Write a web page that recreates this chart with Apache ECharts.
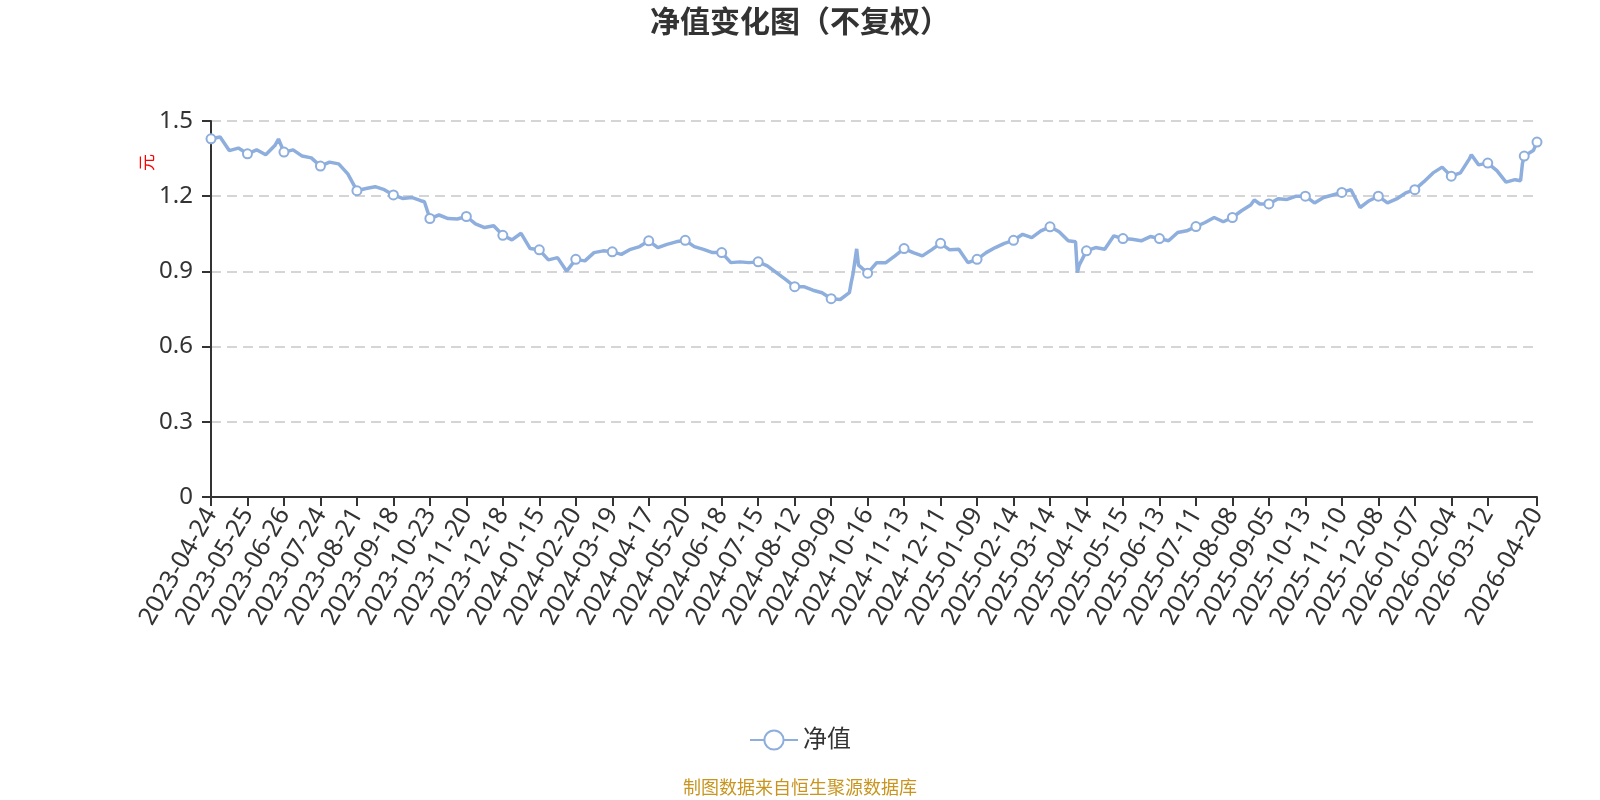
<!DOCTYPE html>
<html>
<head>
<meta charset="utf-8">
<title>净值变化图（不复权）</title>
<script src="https://cdn.jsdelivr.net/npm/echarts@6/dist/echarts.min.js"></script>
<style>
    html, body { margin: 0; padding: 0; background: #fff; }
    #chart { width: 1600px; height: 800px; }
</style>
</head>
<body>
<div id="chart"></div>
<script>
// trading calendar: weekdays minus exchange holidays, plus quarter-end NAV days on weekends
var startDate = "2023-04-24";
var endDate = "2026-04-20";
var holidays = [
    "2023-05-01", "2023-05-02", "2023-05-03", "2023-06-22", "2023-06-23",
    "2023-09-29", "2023-10-02", "2023-10-03", "2023-10-04", "2023-10-05", "2023-10-06",
    "2024-01-01", "2024-02-09", "2024-02-12", "2024-02-13", "2024-02-14", "2024-02-15", "2024-02-16",
    "2024-04-04", "2024-04-05", "2024-05-01", "2024-05-02", "2024-05-03", "2024-06-10",
    "2024-09-16", "2024-09-17", "2024-10-01", "2024-10-02", "2024-10-03", "2024-10-04", "2024-10-07",
    "2025-01-01", "2025-01-28", "2025-01-29", "2025-01-30", "2025-01-31", "2025-02-03", "2025-02-04",
    "2025-04-04", "2025-05-01", "2025-05-02", "2025-05-05", "2025-06-02",
    "2025-10-01", "2025-10-02", "2025-10-03", "2025-10-06", "2025-10-07", "2025-10-08",
    "2026-01-01", "2026-01-02", "2026-02-16", "2026-02-17", "2026-02-18", "2026-02-19", "2026-02-20", "2026-02-23"
];
var quarterEndDays = ["2023-09-30", "2023-12-31", "2024-03-31", "2024-06-30"];

// NAV read every 5th trading day (index 0, 5, 10 ...)
var navStep = 5;
var navValues = [
    1.429, 1.436, 1.382, 1.392, 1.369, 1.385, 1.365, 1.402, 1.376, 1.385,
    1.360, 1.353, 1.320, 1.336, 1.329, 1.289, 1.222, 1.231, 1.238, 1.226,
    1.205, 1.191, 1.195, 1.182, 1.111, 1.125, 1.111, 1.109, 1.119, 1.090,
    1.075, 1.082, 1.044, 1.026, 1.052, 0.991, 0.986, 0.946, 0.955, 0.901,
    0.948, 0.942, 0.975, 0.982, 0.978, 0.968, 0.988, 0.999, 1.022, 0.995,
    1.008, 1.018, 1.024, 0.999, 0.988, 0.975, 0.975, 0.935, 0.938, 0.935,
    0.938, 0.922, 0.895, 0.868, 0.839, 0.839, 0.825, 0.815, 0.791, 0.788,
    0.815, 0.925, 0.893, 0.935, 0.935, 0.962, 0.991, 0.975, 0.962, 0.986,
    1.012, 0.986, 0.988, 0.935, 0.948, 0.975, 0.995, 1.012, 1.024, 1.048,
    1.035, 1.062, 1.078, 1.058, 1.022, 0.895, 0.982, 0.995, 0.988, 1.042,
    1.031, 1.028, 1.022, 1.039, 1.031, 1.022, 1.055, 1.062, 1.079, 1.095,
    1.115, 1.098, 1.115, 1.142, 1.165, 1.169, 1.169, 1.190, 1.187, 1.200,
    1.200, 1.173, 1.195, 1.205, 1.215, 1.226, 1.155, 1.182, 1.200, 1.173,
    1.189, 1.213, 1.226, 1.258, 1.293, 1.316, 1.280, 1.293, 1.350, 1.325,
    1.332, 1.302, 1.256, 1.266, 1.360, 1.382
];
// sharp moves read at their own dates
var extraDates = [
    "2023-06-19", "2023-10-18", "2024-09-26", "2024-09-27", "2024-09-30", "2024-10-08",
    "2025-04-03", "2025-04-08", "2025-08-26", "2026-02-27", "2026-04-07", "2026-04-08", "2026-04-20"
];
var extraValues = [
    1.428, 1.178, 0.855, 0.890, 0.940, 0.990,
    1.018, 0.925, 1.185, 1.365, 1.262, 1.330, 1.416
];

function buildDates() {
    var out = [];
    var d = new Date(startDate + "T00:00:00Z");
    var end = new Date(endDate + "T00:00:00Z");
    while (d <= end) {
        var s = d.toISOString().slice(0, 10);
        var wd = d.getUTCDay();
        if ((wd > 0 && wd < 6 && holidays.indexOf(s) < 0) || quarterEndDays.indexOf(s) >= 0) {
            out.push(s);
        }
        d.setUTCDate(d.getUTCDate() + 1);
    }
    return out;
}

var dates = buildDates();
var series = dates.map(function () { return null; });
navValues.forEach(function (v, k) { series[k * navStep] = v; });
extraDates.forEach(function (dt, k) {
    var idx = dates.indexOf(dt);
    if (idx >= 0) series[idx] = extraValues[k];
});

var font = '"Noto Sans", "Noto Sans CJK SC", sans-serif';
var lineColor = "#8eaedd";

var chart = echarts.init(document.getElementById("chart"));
chart.setOption({
    animation: false,
    textStyle: { fontFamily: font },
    title: [
        {
            text: "净值变化图（不复权）",
            left: "center",
            top: 3,
            textStyle: { fontSize: 30, fontWeight: "bold", color: "#333", fontFamily: font }
        },
        {
            text: "制图数据来自恒生聚源数据库",
            left: "center",
            bottom: 0,
            padding: [0, 0, 2, 0],
            textStyle: { fontSize: 18, fontWeight: "normal", color: "#c8951f", fontFamily: font }
        }
    ],
    legend: {
        bottom: 43,
        left: "center",
        itemWidth: 48,
        itemHeight: 24,
        data: ["净值"],
        textStyle: { fontSize: 24, color: "#333", fontFamily: font }
    },
    grid: { left: 211, right: 63, top: 121, bottom: 303 },
    xAxis: {
        type: "category",
        boundaryGap: false,
        data: dates,
        axisLine: { lineStyle: { color: "#333", width: 2 } },
        axisTick: { length: 9, lineStyle: { width: 2 } },
        axisLabel: {
            interval: 19,
            showMaxLabel: true,
            rotate: 60,
            fontSize: 25,
            color: "#333",
            margin: 13
        }
    },
    yAxis: {
        type: "value",
        min: 0,
        max: 1.5,
        interval: 0.3,
        name: "元",
        nameLocation: "middle",
        nameGap: 54,
        nameMoveOverlap: false,
        nameTextStyle: { color: "red", fontSize: 17, padding: [0, 0, 0, 293] },
        axisLine: { show: true, lineStyle: { color: "#333", width: 2 } },
        axisTick: { show: true, length: 9, lineStyle: { width: 2 } },
        axisLabel: { fontSize: 24, color: "#333", margin: 18 },
        splitLine: { lineStyle: { color: "#c8c8c8", type: [10, 6], width: 1.5 } }
    },
    series: [
        {
            name: "净值",
            type: "line",
            data: series,
            connectNulls: true,
            symbol: "emptyCircle",
            symbolSize: 9,
            itemStyle: { color: lineColor, borderWidth: 1.5 },
            lineStyle: { color: lineColor, width: 3.5 }
        }
    ]
});
</script>
</body>
</html>
